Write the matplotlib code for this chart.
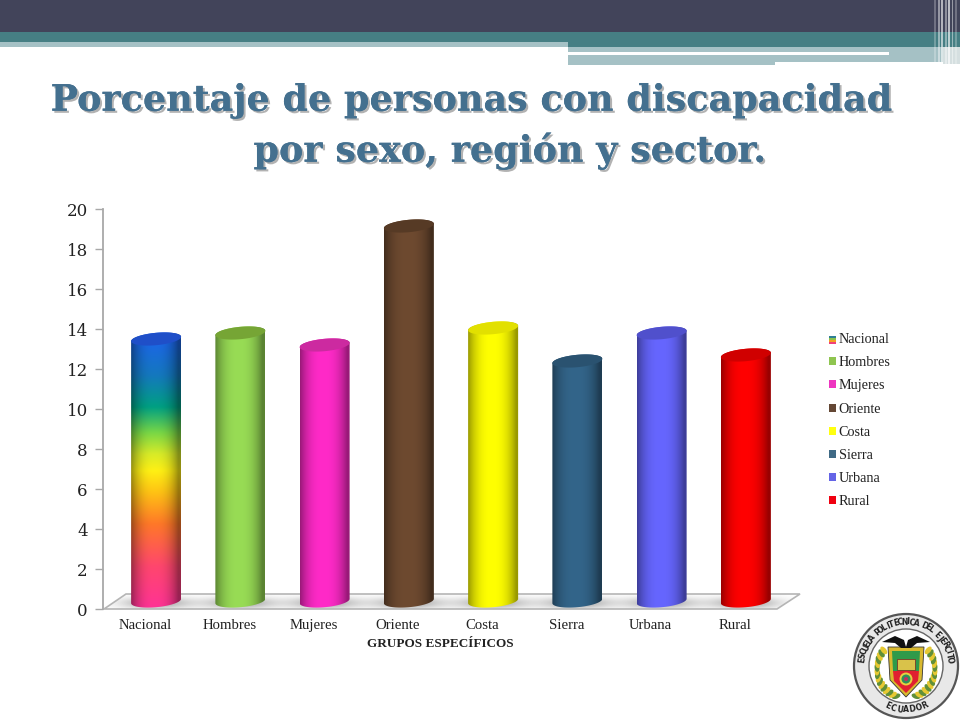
import numpy as np
import matplotlib
matplotlib.use("Agg")
import matplotlib.pyplot as plt
from matplotlib.patches import Rectangle, Polygon, Circle, Ellipse, PathPatch, Patch
from matplotlib.path import Path
from matplotlib.colors import to_rgb
from matplotlib.legend_handler import HandlerBase
import matplotlib.patheffects as pe

# ---- data ----
categories = ["Nacional", "Hombres", "Mujeres", "Oriente", "Costa", "Sierra", "Urbana", "Rural"]
values = [13.1, 13.4, 12.8, 18.75, 13.65, 12.0, 13.4, 12.3]
bar_colors = ["#1f6bff", "#98dc55", "#ff2ac8", "#6e4a30", "#ffff00", "#33658a", "#6666ff", "#ff0000"]
top_colors = ["#1f4fc8", "#76a535", "#cc2aa0", "#563a25", "#e2e000", "#2a5270", "#5050cc", "#d00000"]
legend_colors = ["#888888", "#8fc550", "#ee35c0", "#644734", "#ffff10", "#3f6a85", "#6464e6", "#f00010"]
yticks = list(range(0, 21, 2))
title_lines = ["Porcentaje de personas con discapacidad", "por sexo, región y sector."]
xlabel = "GRUPOS ESPECÍFICOS"

# style of the rainbow first bar
rainbow_pos = [0, 2, 4, 5.5, 6.5, 7.3, 8.3, 9.5, 11, 13.2]
rainbow_rgb = [(255, 50, 150), (255, 70, 110), (255, 120, 40), (255, 195, 20), (255, 240, 20),
               (215, 235, 40), (120, 215, 70), (0, 160, 130), (20, 120, 190), (30, 95, 245)]

W, H = 960, 720
fig = plt.figure(figsize=(W / 100, H / 100), dpi=100, facecolor="white")

# pixel overlay for slide decoration
ov = fig.add_axes([0, 0, 1, 1], zorder=0)
ov.set_xlim(0, W); ov.set_ylim(H, 0); ov.axis("off")

def rect(x0, y0, x1, y1, c, z=1, **k):
    ov.add_patch(Rectangle((x0, y0), x1 - x0, y1 - y0, fc=c, ec="none", zorder=z, **k))

DARK, TEAL, LIGHT = "#42445a", "#467f84", "#a5c1c5"
rect(0, 0, W, 32, DARK)
rect(0, 32, W, 42, TEAL)
rect(0, 42, 568, 47, LIGHT)
rect(568, 42, W, 47, TEAL)
rect(568, 47, 943, 52, LIGHT)
rect(568, 52, 889, 55, "white")
rect(889, 52, 943, 62, LIGHT)
rect(568, 55, 775, 65, LIGHT)
rect(775, 55, 889, 62, LIGHT)
for x, w, c, a in [(934, 2, "white", .25), (938, 1.5, "white", .45), (941, 2, "white", .6),
                   (945, 1.5, "white", .4), (948, 2, "white", .65), (952, 1, "white", .45),
                   (955, 1.5, "white", .25)]:
    ov.add_patch(Rectangle((x, 0), w, 65, fc=c, alpha=a, ec="none", zorder=2))
rect(943, 47, 960, 64, "#d5dfe0", z=1)

# title
shadow = [pe.withSimplePatchShadow(offset=(1.5, -1.5), shadow_rgbFace="#666666", alpha=0.5), pe.Normal()]
TFONT = dict(family="DejaVu Serif", weight="bold", size=26.3, color="#44708f", va="center", zorder=5)
ov.text(472, 101, title_lines[0], ha="center", path_effects=shadow, **TFONT)
ov.text(510, 151, title_lines[1], ha="center", path_effects=shadow, **TFONT)

# floor with soft shadows
fx0, fx1, fback, ffront = 104, 777, 594, 609
floor = Polygon([(fx0, ffront), (126, fback), (800, fback), (fx1, ffront)], closed=True,
                fc="none", ec="#b5b5b5", lw=1.2, zorder=2)
ov.add_patch(floor)
xs = np.linspace(100, 805, 706)
ys = np.linspace(590, 612, 23)
XX, YY = np.meshgrid(xs, ys)
alpha = np.zeros_like(XX)
for i in range(len(categories)):
    alpha += 0.6 * np.exp(-((XX - (145 + 84.25 * i + 11)) / 33) ** 2 - ((YY - 603) / 6) ** 2)
img = np.zeros(XX.shape + (4,))
img[..., :3] = 0.42
img[..., 3] = np.clip(alpha, 0, 1)
im = ov.imshow(img, extent=[100, 805, 612, 590], aspect="auto", zorder=1.5, interpolation="bilinear")
im.set_clip_path(floor)
ov.set_xlim(0, W); ov.set_ylim(H, 0)

# chart axes
ax = fig.add_axes([103 / W, 1 - 609 / H, 674 / W, 400 / H], zorder=2)
ax.patch.set_alpha(0)
ax.set_xlim(-0.5, 7.5); ax.set_ylim(0, 20)
for s in ("top", "right", "bottom"):
    ax.spines[s].set_visible(False)
ax.spines["left"].set_color("#a8a8a8"); ax.spines["left"].set_linewidth(1.3)
ax.set_yticks(yticks)
ax.tick_params(axis="y", length=6, color="#a8a8a8", width=1, pad=5)
ax.set_yticklabels(yticks, family="DejaVu Serif", fontsize=12, color="#222222")
ax.set_xticks(range(len(categories)))
ax.set_xticklabels(categories, family="Liberation Serif", fontsize=10.6, color="#222222", va="baseline")
ax.tick_params(axis="x", length=0, pad=14.4)
ov.text(440, 644, xlabel, family="Liberation Serif", weight="bold", fontsize=9.5, ha="center",
        va="center", color="#222222", zorder=5)

# cylinders
DX, DY = 11 / 84.25, 8 / 20
HW = 25 / 84.25
EH = 6.2 / 20
TILT = 2.2 / 20
u = np.linspace(-1, 1, 120)
shade = 0.60 + 0.40 * np.clip(1 - np.abs((u + 0.05) / 0.95) ** 2.5, 0, 1)

def arc(cx, cy, t0, t1, n=60):
    t = np.linspace(t0, t1, n)
    return np.c_[cx + HW * np.cos(t), cy + EH * np.sin(t) + TILT * np.cos(t)]

for i, v in enumerate(values):
    cx = i + DX
    base, top = DY, DY + v
    body = np.vstack([arc(cx, base, np.pi, 2 * np.pi), arc(cx, top, 0, np.pi)])
    clip = PathPatch(Path(np.vstack([body, body[0]])), fc="none", ec="none", transform=ax.transData)
    ax.add_patch(clip)
    ny = 240
    yv = np.linspace(0, v, ny)
    if i == 0:
        base_rgb = np.stack([np.interp(yv, rainbow_pos, [c[k] / 255 for c in rainbow_rgb]) for k in range(3)], axis=1)
    else:
        base_rgb = np.tile(np.array(to_rgb(bar_colors[i])), (ny, 1))
    rgb = base_rgb[:, None, :] * shade[None, :, None]
    im = ax.imshow(rgb, extent=[cx - HW, cx + HW, base - EH - TILT, top + EH + TILT], origin="lower",
                   aspect="auto", zorder=3, interpolation="bilinear")
    im.set_clip_path(clip)
    ax.add_patch(PathPatch(Path(np.vstack([arc(cx, top, 0, 2 * np.pi), arc(cx, top, 0, 0.01, 2)])),
                           fc=top_colors[i], ec="none", zorder=4, clip_on=False))
ax.set_xlim(-0.5, 7.5); ax.set_ylim(0, 20)

# legend
class StripeHandler(HandlerBase):
    def create_artists(self, legend, orig, xd, yd, width, height, fontsize, trans):
        cols = ["#2f7f95", "#8dc24a", "#f4a020", "#f0407a"]
        return [Rectangle((xd, yd + height * (3 - k) / 4), width, height / 4, fc=c, ec="none", transform=trans)
                for k, c in enumerate(cols)]

handles = [Patch(fc=c, ec="none") for c in legend_colors]
leg = ax.legend(handles, categories, loc="upper left", bbox_to_anchor=(829 / W, 1 - 333 / H),
                bbox_transform=fig.transFigure, frameon=False, borderaxespad=0, borderpad=0,
                prop={"family": "Liberation Serif", "size": 10.2}, labelspacing=0.72,
                handlelength=0.5, handleheight=0.5, handletextpad=0.18,
                handler_map={handles[0]: StripeHandler()})
for t in leg.get_texts():
    t.set_color("#222222")

# crest (decoration)
cx0, cy0 = 906, 666
ov.add_patch(Circle((cx0, cy0), 52, fc="#e8e8e8", ec="#555555", lw=1.6, zorder=3))
ov.add_patch(Circle((cx0, cy0), 37, fc="white", ec="#666666", lw=1, zorder=3.1))

def arc_text(s, r, a0, a1, flip=False):
    for ch, a in zip(s, np.linspace(a0, a1, len(s))):
        rad = np.deg2rad(a)
        x = cx0 + r * np.cos(rad); y = cy0 - r * np.sin(rad)
        rot = a - 90 if not flip else a + 90
        ov.text(x, y, ch, fontsize=5.6, weight="bold", family="DejaVu Sans", color="#222222",
                rotation=rot, rotation_mode="anchor", ha="center", va="center", zorder=4)

arc_text("ESCUELA POLITECNICA DEL EJERCITO", 44, 172, 8)
arc_text("ECUADOR", 44, 245, 295, flip=True)
# wreath
for sgn in (-1, 1):
    t = np.deg2rad(np.linspace(-70, 40, 16))
    for k, a in enumerate(t):
        x = cx0 + sgn * 29 * np.cos(a); y = cy0 + 3 - 29 * np.sin(a)
        ov.add_patch(Ellipse((x, y), 5, 9, angle=sgn * np.rad2deg(a), zorder=3.2,
                             fc="#e6c832" if k % 2 else "#5f8f3a", ec="none"))
# shield
ov.add_patch(Polygon([(888, 647), (924, 647), (922, 680), (906, 697), (890, 680)], fc="#d9b92e", ec="#333333", lw=.6, zorder=3.3))
ov.add_patch(Polygon([(892, 651), (920, 651), (919, 671), (893, 671)], fc="#2f9a4a", ec="none", zorder=3.4))
ov.add_patch(Polygon([(893, 671), (919, 671), (918, 681), (906, 693), (894, 681)], fc="#e02030", ec="none", zorder=3.4))
ov.add_patch(Rectangle((897, 659), 18, 11, fc="#d9c24a", ec="#7a2020", lw=.5, zorder=3.5))
ov.add_patch(Circle((906, 679), 5.5, fc="#2f8f5a", ec="#e6d040", lw=1.4, zorder=3.6))
ov.add_patch(Circle((906, 679), 2, fc="#c03060", ec="none", zorder=3.7))
# condor
ov.add_patch(Polygon([(882, 642), (895, 636), (904, 640), (906, 647), (908, 640), (917, 636), (930, 642),
                      (917, 643), (911, 648), (901, 648), (895, 643)], fc="#111111", ec="none", zorder=3.8))

fig.savefig("out.png", dpi=100, facecolor="white")
